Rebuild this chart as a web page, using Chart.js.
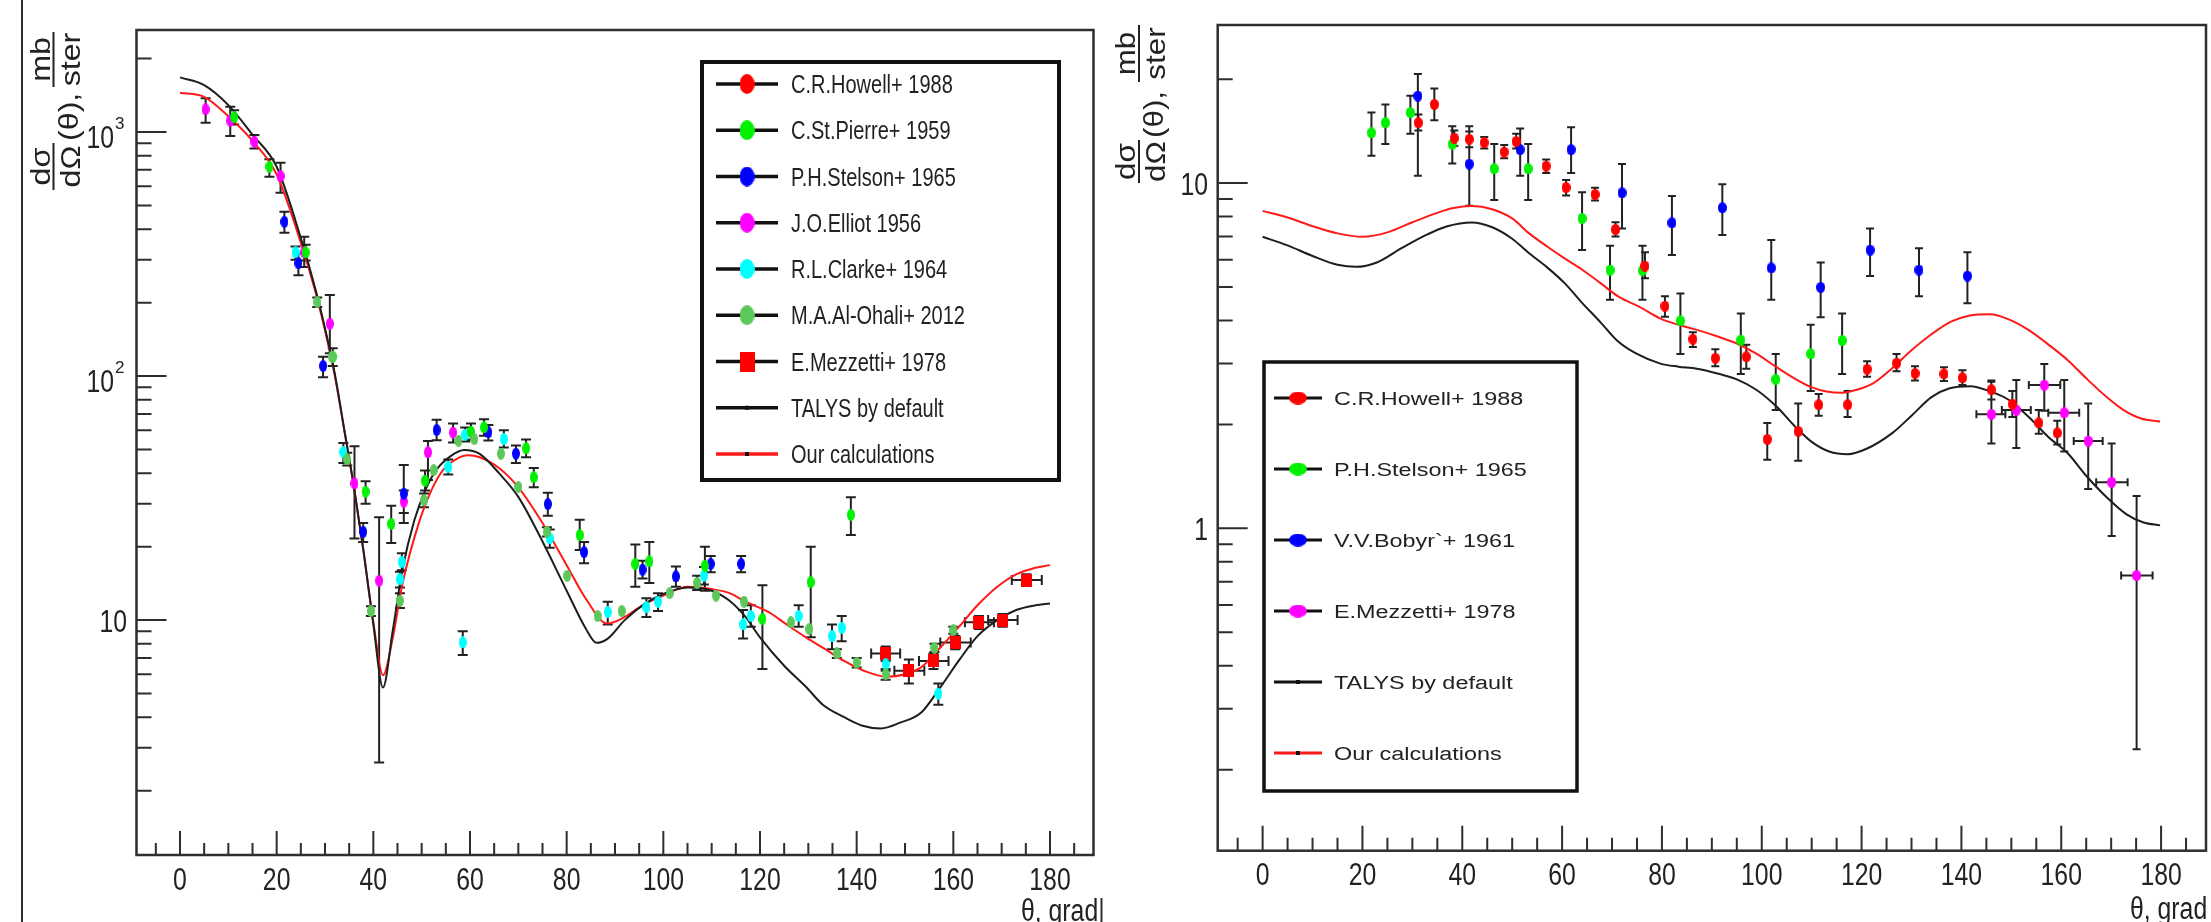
<!DOCTYPE html>
<html lang="en">
<head>
<meta charset="utf-8">
<title>Differential elastic cross sections</title>
<script src="https://cdn.jsdelivr.net/npm/chart.js@4.4.1/dist/chart.umd.min.js"></script>
<style>
  html, body { margin: 0; padding: 0; background: #ffffff; }
  #wrap { position: relative; width: 2211px; height: 922px; overflow: hidden; background: #fff; }
  #wrap canvas { position: absolute; top: 0; }
</style>
</head>
<body>
<div id="wrap">
  <canvas id="leftChart" width="1100" height="922" style="left:0"></canvas>
  <canvas id="rightChart" width="1111" height="922" style="left:1100px"></canvas>
</div>
<script>
// Two ROOT-style angular distributions drawn with Chart.js

const FONT = '"Liberation Sans", Arial, Helvetica, sans-serif';
const INK = '#222222';

// axes
const THETA_MIN = -9, THETA_MAX = 189;
const THETA_TICKS = [0, 20, 40, 60, 80, 100, 120, 140, 160, 180];
const LEFT_Y_MIN = 1.09, LEFT_Y_MAX = 2620;
const RIGHT_Y_MIN = 0.1165, RIGHT_Y_MAX = 28.7;

// left panel, experiments: [theta, value, low, high, thetaLow, thetaHigh]
const L_HOWELL = [];
const L_STPIERRE = [
  [11.2, 1149, 1075, 1230], [18.5, 721, 656, 774], [26.0, 321, 298, 345], [31.6, 120, 110, 130],
  [38.4, 33.6, 30.0, 37.1], [43.7, 24.8, 20.7, 29.4], [50.7, 37.3, 34, 41], [60.2, 59.2, 55, 64],
  [62.9, 61.6, 57, 66.5], [71.6, 50.6, 46.5, 55], [73.2, 38.5, 35, 42], [82.7, 22.3, 19.4, 25.8],
  [94.2, 17.0, 13.7, 20.4], [97.1, 17.4, 14.2, 20.9], [108.6, 16.7, 13.2, 20.0], [120.5, 10.1, 6.3, 13.9],
  [130.5, 14.3, 8.5, 20.0], [138.8, 27.0, 22.3, 31.9]
];
const L_STELSON = [
  [21.6, 429, 387, 471], [24.5, 290, 259, 318], [29.6, 110, 99, 120], [37.9, 23.0, 20.9, 25.0],
  [46.3, 33.0, 25.0, 43.2], [53.1, 60.1, 54.6, 66.2], [63.8, 58.8, 54.5, 63], [69.5, 48.1, 44, 52],
  [76.1, 29.9, 26.8, 33.3], [83.6, 19.0, 17.1, 20.9], [95.7, 16.1, 14.8, 17.5], [102.6, 15.1, 13.7, 16.6],
  [109.8, 17.0, 15.7, 18.3], [116.1, 17.0, 15.7, 18.3]
];
const L_ELLIOT = [
  [5.3, 1239, 1092, 1375], [10.4, 1113, 963, 1270], [15.4, 913, 857, 972], [20.8, 660, 564, 749],
  [25.7, 321, 280, 372], [31.0, 164, 124, 215], [36.1, 36.3, 21.6, 51.6], [41.2, 14.5, 2.61, 26.4],
  [46.3, 30.6, 27.5, 34], [51.3, 48.7, 37.5, 54.2], [56.5, 58.7, 53.5, 64]
];
const L_CLARKE = [
  [23.9, 321, 300, 340], [33.8, 48.8, 44, 53.2], [45.5, 14.7, 13.6, 15.8], [45.9, 17.3, 16.0, 18.8],
  [55.5, 42.4, 39.5, 45.5], [58.5, 8.1, 7.2, 9.0], [59.0, 57.5, 54, 61.5], [67.0, 55.2, 51, 60],
  [76.5, 21.6, 19.8, 23.5], [88.5, 10.8, 9.6, 11.9], [96.5, 11.3, 10.3, 12.3], [98.9, 11.9, 10.9, 12.9],
  [108.4, 15.2, 14.0, 16.5], [116.5, 9.6, 8.4, 11.0], [118.1, 10.4, 9.4, 11.5], [128.0, 10.4, 9.4, 11.5],
  [134.9, 8.6, 7.6, 9.6], [136.9, 9.3, 8.2, 10.4], [146.0, 6.6, 6.2, 7.0], [156.9, 5.0, 4.5, 5.5]
];
const L_ALOHALI = [
  [28.4, 201, 192, 210], [31.5, 120], [34.6, 45.6, 43, 48.5], [39.5, 10.9, 10.4, 11.4],
  [45.5, 12.0, 11.2, 12.9], [50.5, 31.0, 29, 33], [52.5, 41.2], [57.6, 54.3], [60.9, 55.2],
  [66.4, 48.1], [70.0, 35.1], [75.9, 23.0, 22, 24], [80.1, 15.2], [86.4, 10.4], [91.4, 10.9],
  [101.3, 12.9], [107.0, 14.2, 13.3, 15.2], [110.9, 12.6], [116.7, 11.9], [126.4, 9.8], [130.2, 9.2],
  [135.9, 7.3, 7.0, 7.6], [140.0, 6.7, 6.4, 7.0], [146.0, 6.0, 5.7, 6.3], [156.1, 7.7, 7.4, 8.0],
  [160.0, 9.1, 8.8, 9.4]
];
const L_MEZZETTI = [
  [146.0, 7.3, 6.8, 7.8, 143.0, 149.0], [150.8, 6.2, 5.5, 6.9, 147.8, 154.0],
  [155.9, 6.8, 6.3, 7.3, 152.9, 159.0], [160.4, 8.1, 7.6, 8.6, 157.3, 163.6],
  [165.3, 9.8, 9.2, 10.4, 162.4, 168.4], [170.2, 10.0, 9.4, 10.6, 167.2, 173.3],
  [175.1, 14.6, 13.8, 15.4, 172.1, 178.3]
];

// left panel, calculations: [theta, value]
const L_TALYS = [
  [0, 1675], [5, 1558], [10, 1290], [15, 975], [20, 721], [25, 368], [28, 228], [30, 157], [32, 103],
  [34, 60], [36, 35], [38, 19], [40, 9.6], [42, 5.3], [44, 9], [46, 16], [48.5, 25.7], [51, 35],
  [53, 41.2], [56, 47], [58.8, 49.8], [62, 48], [66, 40], [70, 32], [75, 21], [80, 13.2], [84, 9.2],
  [86.2, 8.07], [88.5, 8.4], [92, 10], [96, 11.6], [100, 12.8], [105, 13.6], [110, 13.2], [113.7, 12.0],
  [117, 10.3], [120, 8.5], [125, 6.5], [129.5, 5.33], [133, 4.5], [137.4, 4.0], [141, 3.7], [145, 3.6],
  [149, 3.8], [153.3, 4.17], [157, 5.2], [161.2, 6.85], [165, 8.6], [169.1, 10], [173, 11], [177, 11.5],
  [180, 11.7]
];
const L_OURS = [
  [0, 1450], [5, 1395], [10, 1160], [15, 920], [20, 670], [25, 352], [28, 222], [30, 154], [32, 101],
  [34, 60], [36, 35], [38, 19], [40, 9.8], [42, 5.95], [44, 8.4], [46, 14], [49.6, 25.7], [52, 34],
  [54.4, 41.2], [57, 45.5], [59.6, 47.4], [62, 46.5], [66, 42], [70, 35], [75, 25], [80, 16.8],
  [84, 12.2], [88.4, 9.68], [92, 10.3], [96, 11.6], [100, 12.6], [105, 13.7], [110, 13.4], [113.7, 12.9],
  [117, 11.9], [121.7, 10.8], [125.5, 9.6], [129.5, 8.5], [133.5, 7.6], [137.4, 6.8], [141.5, 6.2],
  [146.2, 5.86], [150, 6.0], [153.3, 6.4], [157, 7.6], [161.2, 9.4], [165, 11.5], [169.1, 13.7],
  [173, 15.4], [177, 16.4], [180, 16.8]
];

// right panel, experiments
const R_HOWELL = [
  [31.2, 14.96, 14.2, 15.8], [34.4, 16.9, 15.2, 18.8], [38.4, 13.5, 12.8, 14.2], [41.4, 13.4, 12.7, 14.1],
  [44.4, 13.1, 12.6, 13.6], [48.4, 12.3, 11.8, 12.9], [50.8, 13.2, 12.6, 13.9], [56.8, 11.2, 10.7, 11.7],
  [60.8, 9.71, 9.2, 10.2], [66.6, 9.27, 8.9, 9.7], [70.7, 7.34, 7.0, 7.7], [76.6, 5.75, 5.3, 6.3],
  [80.6, 4.40, 4.1, 4.7], [86.2, 3.53, 3.35, 3.7], [90.7, 3.11, 2.95, 3.3], [96.9, 3.14, 2.9, 3.4],
  [101.1, 1.81, 1.58, 2.02], [107.3, 1.91, 1.57, 2.3], [111.4, 2.28, 2.12, 2.45], [117.2, 2.28, 2.1, 2.5],
  [121.1, 2.89, 2.75, 3.05], [127.0, 3.01, 2.85, 3.2], [130.7, 2.81, 2.68, 2.95], [136.5, 2.80, 2.67, 2.93],
  [140.2, 2.73, 2.6, 2.87], [146.0, 2.52, 2.36, 2.68], [150.2, 2.29, 2.1, 2.5], [155.5, 2.02, 1.88, 2.2],
  [159.2, 1.89, 1.75, 2.05]
];
const R_STELSON = [
  [21.8, 13.98, 12.0, 16.0], [24.6, 14.96, 12.97, 16.9], [29.6, 16.0, 13.9, 17.9], [38.0, 12.97, 11.4, 14.6],
  [46.4, 11.0, 8.93, 12.97], [53.2, 11.0, 8.93, 12.97], [64.0, 7.90, 6.4, 9.4], [69.6, 5.60, 4.59, 6.58],
  [76.1, 5.58, 4.59, 6.58], [83.7, 3.99, 3.20, 4.79], [95.8, 3.51, 2.80, 4.19], [102.8, 2.70, 2.20, 3.20],
  [109.8, 3.20, 2.50, 3.89], [116.1, 3.50, 2.80, 4.19]
];
const R_BOBYR = [
  [31.1, 17.87, 10.5, 20.7], [41.4, 11.35, 8.6, 14.6], [51.6, 12.5, 10.5, 14.4], [61.8, 12.5, 10.7, 14.5],
  [72.0, 9.37, 7.39, 11.35], [82.0, 7.67, 6.19, 9.17], [92.1, 8.48, 7.07, 9.93], [101.9, 5.68, 4.59, 6.84],
  [111.8, 4.99, 4.09, 5.89], [121.7, 6.40, 5.38, 7.39], [131.5, 5.60, 4.70, 6.47], [141.2, 5.38, 4.49, 6.30]
];
const R_MEZZETTI = [
  [146.0, 2.14, 1.76, 2.66, 143.0, 148.8], [151.0, 2.20, 1.71, 2.69, 148.1, 153.9],
  [156.6, 2.60, 2.19, 2.99, 153.5, 159.8], [160.6, 2.16, 1.67, 2.69, 157.4, 163.6],
  [165.4, 1.79, 1.30, 2.30, 162.5, 168.3], [170.1, 1.36, 0.95, 1.76, 167.0, 173.3],
  [175.1, 0.73, 0.229, 1.24, 172.0, 178.3]
];
const R_TALYS = [
  [0, 6.99], [5, 6.6], [10, 6.15], [15, 5.8], [18.7, 5.72], [23, 5.9], [28, 6.5], [33, 7.1], [37, 7.5],
  [41.9, 7.69], [46, 7.45], [50, 6.9], [53.4, 6.26], [57, 5.7], [60.5, 5.13], [64, 4.5], [67.7, 3.95],
  [71, 3.5], [74.8, 3.21], [79.7, 3.0], [83.3, 2.94], [87, 2.9], [91.1, 2.81], [95, 2.7], [98.9, 2.52],
  [103, 2.25], [106.7, 1.97], [110, 1.78], [113.5, 1.67], [117.2, 1.64], [121, 1.7], [126.2, 1.89],
  [130, 2.12], [134, 2.40], [137.5, 2.54], [141.8, 2.58], [145.5, 2.5], [149.6, 2.35], [153.5, 2.1],
  [157.4, 1.84], [161.3, 1.65], [165, 1.42], [169.1, 1.23], [173, 1.1], [176.5, 1.04], [179.8, 1.02]
];
const R_OURS = [
  [0, 8.31], [5, 7.95], [10, 7.5], [15, 7.15], [20.1, 6.99], [25, 7.2], [30, 7.7], [35, 8.2], [38, 8.45],
  [41.9, 8.58], [46, 8.4], [50, 7.9], [53.4, 7.15], [57, 6.55], [60.5, 6.05], [64.1, 5.6], [67.7, 5.13],
  [71.3, 4.69], [75.5, 4.38], [79.7, 4.05], [83.5, 3.88], [87.2, 3.75], [91, 3.6], [95, 3.43], [99, 3.2],
  [102.8, 2.94], [106.5, 2.72], [109.8, 2.57], [113, 2.49], [116.1, 2.47], [119, 2.52], [122.3, 2.63],
  [126, 2.9], [130.1, 3.29], [134, 3.65], [137.9, 3.97], [141.5, 4.13], [145.7, 4.17], [149.5, 4.03],
  [153.5, 3.75], [157.5, 3.4], [161.3, 3.07], [165, 2.72], [169.1, 2.40], [172.5, 2.2], [176, 2.08],
  [179.8, 2.04]
];

const COLORS = {
  red: '#ff0000', green: '#00f000', blue: '#0000ff', magenta: '#ff00ff',
  cyan: '#00ffff', olive: '#5cc85c', talys: '#1e1e1e', ours: '#ff1a1a'
};

// small bitmap markers (the plots are stretched, so the dots are ellipses)
function markerImg(color, w, h, square) {
  const c = document.createElement('canvas');
  c.width = w; c.height = h;
  const g = c.getContext('2d');
  g.fillStyle = color;
  if (square) {
    g.fillRect(0, 0, w, h);
  } else {
    g.beginPath();
    g.ellipse(w / 2, h / 2, w / 2, h / 2, 0, 0, Math.PI * 2);
    g.fill();
  }
  return c;
}

function pointSet(label, rows, img) {
  return {
    label: label,
    order: 0,
    showLine: false,
    data: rows.map(r => ({ x: r[0], y: r[1], yLo: r[2], yHi: r[3], xLo: r[4], xHi: r[5] })),
    pointStyle: img,
    pointRadius: 5,
    pointHoverRadius: 5,
    borderWidth: 0
  };
}

function curveSet(label, rows, color) {
  return {
    label: label,
    order: 1,
    showLine: true,
    data: rows.map(r => ({ x: r[0], y: r[1] })),
    borderColor: color,
    borderWidth: 2,
    pointRadius: 0,
    cubicInterpolationMode: 'monotone',
    fill: false
  };
}

// error bars with end caps, drawn beneath the markers
const errorBars = {
  id: 'errorBars',
  beforeDatasetsDraw(chart, args, opts) {
    const { ctx, scales: { x, y } } = chart;
    const cap = opts.cap || 5;
    ctx.save();
    ctx.strokeStyle = INK;
    ctx.lineWidth = 2;
    ctx.beginPath();
    chart.data.datasets.forEach(ds => {
      if (ds.showLine) return;
      ds.data.forEach(p => {
        const px = x.getPixelForValue(p.x), py = y.getPixelForValue(p.y);
        if (p.yLo != null) {
          const a = y.getPixelForValue(p.yLo), b = y.getPixelForValue(p.yHi);
          ctx.moveTo(px, a); ctx.lineTo(px, b);
          ctx.moveTo(px - cap, a); ctx.lineTo(px + cap, a);
          ctx.moveTo(px - cap, b); ctx.lineTo(px + cap, b);
        }
        if (p.xLo != null) {
          const a = x.getPixelForValue(p.xLo), b = x.getPixelForValue(p.xHi);
          ctx.moveTo(a, py); ctx.lineTo(b, py);
          ctx.moveTo(a, py - cap); ctx.lineTo(a, py + cap);
          ctx.moveTo(b, py - cap); ctx.lineTo(b, py + cap);
        }
      });
    });
    ctx.stroke();
    ctx.restore();
  }
};

function txt(ctx, s, x, y, size, sx, align) {
  ctx.save();
  ctx.font = size + 'px ' + FONT;
  ctx.fillStyle = INK;
  ctx.textAlign = align || 'left';
  ctx.textBaseline = 'alphabetic';
  ctx.translate(x, y);
  ctx.scale(sx || 1, 1);
  ctx.fillText(s, 0, 0);
  ctx.restore();
}

function logTicks(min, max) {
  const out = [];
  for (let e = Math.floor(Math.log10(min)); e <= Math.ceil(Math.log10(max)); e++) {
    for (let m = 1; m <= 9; m++) {
      const v = m * Math.pow(10, e);
      if (v >= min && v <= max) out.push({ v: v, major: m === 1 });
    }
  }
  return out;
}

// dσ/dΩ(θ), mb/ster written bottom-to-top
function yTitle(ctx, x0, y0, s) {
  ctx.save();
  ctx.translate(x0, y0);
  ctx.rotate(-Math.PI / 2);
  ctx.font = '28px ' + FONT;
  ctx.fillStyle = INK;
  const put = (str, u, v, align) => {
    ctx.save(); ctx.translate(u, v); ctx.scale(s.sx, 1);
    ctx.textAlign = align; ctx.fillText(str, 0, 0); ctx.restore();
  };
  put('dσ', s.f1 / 2, -4, 'center');
  put('dΩ', s.f1 / 2, 26, 'center');
  put('(θ),', s.f1 + 2, 24, 'left');
  const mid = (s.f2a + s.f2b) / 2;
  put('mb', mid, -4, 'center');
  put('ster', mid, 26, 'center');
  ctx.strokeStyle = INK;
  ctx.lineWidth = 2;
  ctx.beginPath();
  ctx.moveTo(0, 0); ctx.lineTo(s.f1, 0);
  ctx.moveTo(s.f2a, 0); ctx.lineTo(s.f2b, 0);
  ctx.stroke();
  ctx.restore();
}

// frame, inner ticks, labels, titles and legend in ROOT fashion
const rootFrame = {
  id: 'rootFrame',
  afterDatasetsDraw(chart, args, o) {
    const ctx = chart.ctx, a = chart.chartArea;
    const xs = chart.scales.x, ys = chart.scales.y;
    ctx.save();
    ctx.strokeStyle = '#2e2e2e';
    ctx.lineWidth = 2.5;
    ctx.strokeRect(a.left, a.top, a.right - a.left, a.bottom - a.top);

    ctx.lineWidth = 2;
    ctx.beginPath();
    for (let t = -5; t <= 185; t += 5) {
      const px = xs.getPixelForValue(t);
      const len = THETA_TICKS.includes(t) ? o.xMajor : o.xMinor;
      ctx.moveTo(px, a.bottom); ctx.lineTo(px, a.bottom - len);
    }
    logTicks(ys.min, ys.max).forEach(t => {
      const py = ys.getPixelForValue(t.v);
      ctx.moveTo(a.left, py); ctx.lineTo(a.left + (t.major ? o.yMajor : o.yMinor), py);
    });
    (o.lines || []).forEach(l => { ctx.moveTo(l[0], l[1]); ctx.lineTo(l[2], l[3]); });
    ctx.stroke();

    THETA_TICKS.forEach(t => txt(ctx, String(t), xs.getPixelForValue(t), o.xLabelBase, 31, 0.8, 'center'));
    o.yLabels.forEach(l => {
      const py = ys.getPixelForValue(l.v);
      if (l.sup) {
        txt(ctx, l.base, o.yLabelRight - 13, py + 16, 31, 0.8, 'right');
        txt(ctx, l.sup, o.yLabelRight - 12, py - 3, 17, 1, 'left');
      } else {
        txt(ctx, l.base, o.yLabelRight, py + 12, 31, 0.8, 'right');
      }
    });
    txt(ctx, 'θ, grad', o.xTitle[0], o.xTitle[1], 31, 0.8, 'left');
    yTitle(ctx, o.yTitle[0], o.yTitle[1], o.yTitle[2]);

    // legend
    const L = o.legend;
    ctx.fillStyle = '#ffffff';
    ctx.fillRect(L.box[0], L.box[1], L.box[2] - L.box[0], L.box[3] - L.box[1]);
    ctx.strokeStyle = '#111';
    ctx.lineWidth = L.border;
    ctx.strokeRect(L.box[0], L.box[1], L.box[2] - L.box[0], L.box[3] - L.box[1]);
    L.items.forEach((it, i) => {
      const cy = L.y0 + i * L.dy;
      ctx.strokeStyle = it.line || '#111';
      ctx.lineWidth = L.lw;
      ctx.beginPath();
      ctx.moveTo(L.line[0], cy); ctx.lineTo(L.line[1], cy);
      ctx.stroke();
      if (it.img) {
        ctx.drawImage(it.img, L.mark - it.img.width / 2, cy - it.img.height / 2);
      } else {
        ctx.fillStyle = '#111';
        ctx.fillRect(L.mark - 2, cy - 2, 4, 4);
      }
      txt(ctx, it.label, L.text, cy + L.base, L.size, L.sx, 'left');
    });
    ctx.restore();
  }
};

function buildChart(id, cfg) {
  return new Chart(document.getElementById(id), {
    type: 'scatter',
    data: { datasets: cfg.datasets },
    options: {
      responsive: false,
      animation: false,
      devicePixelRatio: 1,
      events: [],
      layout: { padding: cfg.padding },
      scales: {
        x: { type: 'linear', display: false, min: THETA_MIN, max: THETA_MAX, bounds: 'data' },
        y: { type: 'logarithmic', display: false, min: cfg.yMin, max: cfg.yMax, bounds: 'data' }
      },
      plugins: {
        legend: { display: false },
        tooltip: { enabled: false },
        errorBars: { cap: cfg.cap },
        rootFrame: cfg.frame
      }
    },
    plugins: [errorBars, rootFrame]
  });
}

// left panel
const LM = (c, sq) => markerImg(c, sq ? 11 : 8, sq ? 13 : 12, sq);
const LG = (c, sq) => markerImg(c, 15, 20, sq);
buildChart('leftChart', {
  padding: { left: 136.5, right: 6.5, top: 30, bottom: 67 },
  yMin: LEFT_Y_MIN, yMax: LEFT_Y_MAX, cap: 5,
  datasets: [
    curveSet('TALYS by default', L_TALYS, COLORS.talys),
    curveSet('Our calculations', L_OURS, COLORS.ours),
    pointSet('C.R.Howell+ 1988', L_HOWELL, LM(COLORS.red)),
    pointSet('M.A.Al-Ohali+ 2012', L_ALOHALI, LM(COLORS.olive)),
    pointSet('C.St.Pierre+ 1959', L_STPIERRE, LM(COLORS.green)),
    pointSet('P.H.Stelson+ 1965', L_STELSON, LM(COLORS.blue)),
    pointSet('R.L.Clarke+ 1964', L_CLARKE, LM(COLORS.cyan)),
    pointSet('J.O.Elliot 1956', L_ELLIOT, LM(COLORS.magenta)),
    pointSet('E.Mezzetti+ 1978', L_MEZZETTI, LM(COLORS.red, true))
  ],
  frame: {
    xMajor: 24, xMinor: 12, yMajor: 30, yMinor: 15,
    xLabelBase: 890, yLabelRight: 127,
    yLabels: [{ v: 1000, base: '10', sup: '3' }, { v: 100, base: '10', sup: '2' }, { v: 10, base: '10' }],
    xTitle: [1021, 921],
    yTitle: [53.5, 190, { sx: 1.15, f1: 47, f2a: 103, f2b: 158 }],
    lines: [[22, 0, 22, 922]],
    legend: {
      box: [702, 62, 1059, 480], border: 4, y0: 84, dy: 46.25,
      line: [716, 778], mark: 747, text: 791, size: 25, sx: 0.8, base: 9, lw: 3.5,
      items: [
        { label: 'C.R.Howell+ 1988', img: LG(COLORS.red) },
        { label: 'C.St.Pierre+ 1959', img: LG(COLORS.green) },
        { label: 'P.H.Stelson+ 1965', img: LG(COLORS.blue) },
        { label: 'J.O.Elliot 1956', img: LG(COLORS.magenta) },
        { label: 'R.L.Clarke+ 1964', img: LG(COLORS.cyan) },
        { label: 'M.A.Al-Ohali+ 2012', img: LG(COLORS.olive) },
        { label: 'E.Mezzetti+ 1978', img: LG(COLORS.red, true) },
        { label: 'TALYS by default', line: '#111' },
        { label: 'Our calculations', line: COLORS.ours }
      ]
    }
  }
});

// right panel
const RM = c => markerImg(c, 9, 11);
const RG = c => markerImg(c, 18, 13);
buildChart('rightChart', {
  padding: { left: 117.7, right: 5, top: 25, bottom: 71.3 },
  yMin: RIGHT_Y_MIN, yMax: RIGHT_Y_MAX, cap: 4,
  datasets: [
    curveSet('TALYS by default', R_TALYS, COLORS.talys),
    curveSet('Our calculations', R_OURS, COLORS.ours),
    pointSet('C.R.Howell+ 1988', R_HOWELL, RM(COLORS.red)),
    pointSet('P.H.Stelson+ 1965', R_STELSON, RM(COLORS.green)),
    pointSet('V.V.Bobyr`+ 1961', R_BOBYR, RM(COLORS.blue)),
    pointSet('E.Mezzetti+ 1978', R_MEZZETTI, RM(COLORS.magenta))
  ],
  frame: {
    xMajor: 25, xMinor: 13, yMajor: 30, yMinor: 15,
    xLabelBase: 885, yLabelRight: 108,
    yLabels: [{ v: 10, base: '10' }, { v: 1, base: '1' }],
    xTitle: [1030, 919],
    yTitle: [39, 183, { sx: 1.12, f1: 43, f2a: 101, f2b: 158 }],
    lines: [[1.5, 898, 1.5, 922]],
    legend: {
      box: [164, 362, 477, 791], border: 3.5, y0: 398, dy: 71,
      line: [174, 222], mark: 198, text: 234, size: 18, sx: 1.3, base: 6.5, lw: 3,
      items: [
        { label: 'C.R.Howell+ 1988', img: RG(COLORS.red) },
        { label: 'P.H.Stelson+ 1965', img: RG(COLORS.green) },
        { label: 'V.V.Bobyr`+ 1961', img: RG(COLORS.blue) },
        { label: 'E.Mezzetti+ 1978', img: RG(COLORS.magenta) },
        { label: 'TALYS by default', line: '#111' },
        { label: 'Our calculations', line: COLORS.ours }
      ]
    }
  }
});
</script>
</body>
</html>
